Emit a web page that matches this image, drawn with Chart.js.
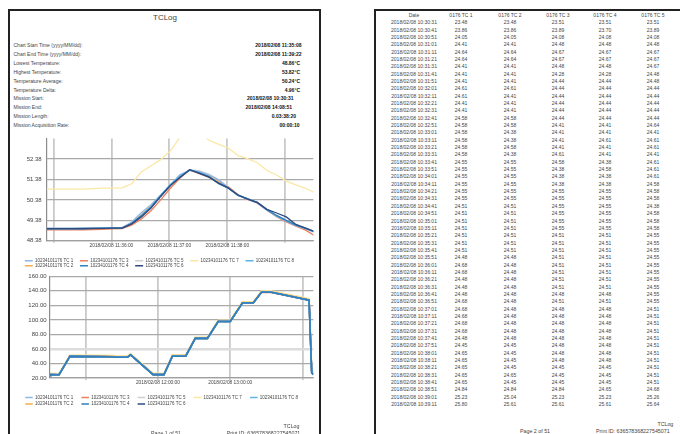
<!DOCTYPE html>
<html>
<head>
<meta charset="utf-8">
<script src="https://cdn.jsdelivr.net/npm/chart.js@4.4.1/dist/chart.umd.min.js"></script>
<style>
  html, body { margin: 0; padding: 0; background: #fff; }
  body { position: relative; width: 680px; height: 434px; overflow: hidden; font-family: "Liberation Sans", Arial, sans-serif; color: #444; }
  .page { position: absolute; border: 2px solid #222; box-sizing: border-box; height: 520px; }
  #page1 { left: 8px; top: 9px; width: 313px; }
  #page2 { left: 374px; top: 9px; width: 340px; }
  .t { position: absolute; white-space: nowrap; font-size: 5px; line-height: 6px; color: #444; font-weight: normal; }
  .b { font-weight: bold; color: #111; }
  canvas { position: absolute; }
</style>
</head>
<body>
<div class="page" id="page1"></div>
<div class="page" id="page2"></div>
<canvas id="zoomChart" width="306" height="150" style="left:12px;top:130px"></canvas>
<canvas id="missionChart" width="306" height="152" style="left:12px;top:268px"></canvas>
<script>
//DATA - summary block
const statLabels = ["Chart Start Time (yyyy/MM/dd):", "Chart End Time (yyyy/MM/dd):", "Lowest Temperature:", "Highest Temperature:", "Temperature Average:", "Temperature Delta:", "Mission Start:", "Mission End:", "Mission Length:", "Mission Acquisition Rate:"];
const statValues = ["2018/02/08 11:35:08", "2018/02/08 11:39:22", "48.86°C", "53.82°C", "50.24°C", "4.96°C", "2018/02/08 10:30:31", "2018/02/08 14:08:51", "0.03:38:20", "00:00:10"];

//DATA - series names
const tcNames = ["10234101176 TC 1", "10234101176 TC 2", "10234101176 TC 3", "10234101176 TC 4", "10234101176 TC 5", "10234101176 TC 6", "10234101176 TC 7", "10234101176 TC 8"];

//DATA - chart 1 (zoom around the peak, one reading every 10 s)
const zoomTimes = ["11:34:51", "11:35:01", "11:35:11", "11:35:21", "11:35:31", "11:35:41", "11:35:51", "11:36:01", "11:36:11", "11:36:21", "11:36:31", "11:36:41", "11:36:51", "11:37:01", "11:37:11", "11:37:21", "11:37:31", "11:37:41", "11:37:51", "11:38:01", "11:38:11", "11:38:21", "11:38:31", "11:38:41", "11:38:51", "11:39:01", "11:39:11", "11:39:21", "11:39:31"];
const zoomTC1 = [49.00, 49.00, 49.00, 49.00, 49.01, 49.01, 49.02, 49.02, 49.02, 49.30, 49.75, 50.15, 50.62, 51.12, 51.62, 51.82, 51.76, 51.60, 51.36, 50.98, 50.60, 50.42, 50.24, 49.88, 49.58, 49.34, 49.12, 48.98, 48.78];
const zoomTC2 = [48.98, 48.98, 48.98, 48.98, 48.99, 49.00, 49.00, 49.01, 49.01, 49.26, 49.66, 50.08, 50.58, 51.08, 51.55, 51.84, 51.72, 51.55, 51.28, 50.96, 50.61, 50.42, 50.25, 49.89, 49.60, 49.35, 49.13, 48.98, 48.79];
const zoomTC3 = [48.92, 48.92, 48.92, 48.92, 48.92, 48.93, 48.94, 48.96, 48.98, 49.15, 49.45, 49.85, 50.38, 50.95, 51.45, 51.84, 51.66, 51.48, 51.20, 51.02, 50.64, 50.40, 50.22, 49.88, 49.56, 49.30, 49.10, 48.90, 48.62];
const zoomTC4 = [48.96, 48.96, 48.96, 48.97, 48.97, 48.98, 48.99, 49.00, 49.00, 49.22, 49.60, 50.02, 50.58, 51.10, 51.50, 51.85, 51.70, 51.52, 51.18, 50.95, 50.60, 50.43, 50.25, 49.90, 49.62, 49.38, 49.15, 49.00, 48.82];
const zoomTC5 = [48.99, 48.99, 48.99, 48.99, 49.00, 49.00, 49.01, 49.01, 49.02, 49.23, 49.58, 50.00, 50.56, 51.08, 51.50, 51.86, 51.80, 51.64, 51.38, 51.00, 50.62, 50.44, 50.26, 49.92, 49.62, 49.38, 49.16, 49.00, 48.82];
const zoomTC6 = [48.98, 48.98, 48.98, 48.98, 48.98, 48.99, 48.99, 49.00, 49.00, 49.21, 49.55, 49.98, 50.55, 51.08, 51.48, 51.86, 51.68, 51.50, 51.20, 50.97, 50.62, 50.42, 50.26, 49.92, 49.74, 49.55, 49.18, 49.00, 48.82];
const zoomTC7 = [50.91, 50.91, 50.91, 50.91, 50.91, 50.93, 50.96, 50.96, 50.97, 51.17, 51.75, 52.05, 52.35, 52.78, 53.45, 53.82, 53.70, 53.30, 53.10, 52.92, 52.55, 52.40, 52.20, 51.82, 51.60, 51.30, 51.12, 50.95, 50.72];
const zoomTC8 = [48.98, 48.98, 48.98, 48.98, 48.99, 48.99, 49.00, 49.00, 49.01, 49.24, 49.62, 50.05, 50.60, 51.12, 51.52, 51.86, 51.72, 51.54, 51.20, 50.96, 50.62, 50.44, 50.26, 49.90, 49.60, 49.36, 49.14, 48.98, 48.80];
const zoomXTicks = ["11:35:00", "11:36:00", "11:37:00", "11:38:00", "11:39:00"];
const zoomXLabels = ["", "2018/02/08 11:36:00", "2018/02/08 11:37:00", "2018/02/08 11:38:00", ""];
const zoomYTicks = [48.38, 49.38, 50.38, 51.38, 52.38, 53.38];
const zoomYLabels = ["48.38", "49.38", "50.38", "51.38", "52.38", ""];

//DATA - chart 2 (whole mission)
const missionTimes = ["10:30:31", "10:31:11", "10:38:01", "10:47:01", "11:20:01", "11:25:01", "11:35:01", "11:37:21", "11:56:01", "12:05:01", "12:12:01", "12:23:01", "12:31:01", "12:41:01", "12:50:01", "13:00:01", "13:10:01", "13:19:01", "13:26:01", "13:34:01", "14:05:21", "14:07:31", "14:08:51"];
const missionTC1 = [23.48, 24.64, 24.65, 49.90, 49.40, 48.70, 49.00, 51.82, 24.70, 24.70, 50.10, 50.10, 74.60, 74.60, 97.90, 97.90, 123.30, 123.30, 138.40, 138.10, 127.30, 29.00, 26.00];
const missionTC2 = [23.48, 24.64, 24.45, 50.60, 50.10, 49.40, 48.98, 51.84, 25.40, 25.40, 50.80, 50.80, 75.30, 75.30, 98.60, 98.60, 124.00, 124.00, 139.10, 138.80, 128.00, 31.00, 28.50];
const missionTC3 = [23.51, 24.67, 24.48, 49.70, 49.20, 48.50, 48.92, 51.84, 24.50, 24.50, 49.90, 49.90, 74.40, 74.40, 97.70, 97.70, 123.10, 123.10, 138.20, 137.90, 127.10, 27.50, 24.80];
const missionTC4 = [23.51, 24.67, 24.48, 49.80, 49.30, 48.60, 48.97, 51.85, 24.60, 24.60, 50.00, 50.00, 74.50, 74.50, 97.80, 97.80, 123.20, 123.20, 138.30, 138.00, 127.20, 28.00, 25.00];
const missionTC5 = [23.51, 24.67, 24.51, 49.80, 49.30, 48.60, 48.99, 51.86, 24.60, 24.60, 50.00, 50.00, 74.50, 74.50, 97.80, 97.80, 123.20, 123.20, 138.30, 138.00, 127.20, 28.50, 25.50];
const missionTC6 = [23.50, 24.66, 24.48, 49.80, 49.30, 48.60, 48.98, 51.86, 24.60, 24.60, 50.00, 50.00, 74.50, 74.50, 97.80, 97.80, 123.20, 123.20, 138.30, 138.00, 127.20, 27.00, 24.60];
const missionTC7 = [25.40, 26.30, 26.20, 51.50, 51.10, 50.40, 50.91, 53.82, 26.30, 26.30, 51.80, 51.80, 76.30, 76.30, 99.60, 99.60, 125.00, 125.00, 140.20, 140.00, 129.30, 34.00, 30.50];
const missionTC8 = [23.52, 24.68, 24.50, 49.80, 49.30, 48.60, 48.98, 51.85, 24.60, 24.60, 50.00, 50.00, 74.50, 74.50, 97.80, 97.80, 123.20, 123.20, 138.30, 138.00, 127.20, 28.00, 25.20];
const missionXTicks = ["11:00:00", "12:00:00", "13:00:00", "14:00:00"];
const missionXLabels = ["", "2018/02/08 12:00:00", "2018/02/08 13:00:00", ""];
const missionYTicks = [20, 40, 60, 80, 100, 120, 140, 160];
const missionYLabels = ["20.00", "40.00", "60.00", "80.00", "100.00", "120.00", "140.00", "160.00"];

//DATA - page 2 table
const tableHeaders = ["Date", "0176 TC 1", "0176 TC 2", "0176 TC 3", "0176 TC 4", "0176 TC 5"];
const tableTimes = ["10:30:31", "10:30:41", "10:30:51", "10:31:01", "10:31:11", "10:31:21", "10:31:31", "10:31:41", "10:31:51", "10:32:01", "10:32:11", "10:32:21", "10:32:31", "10:32:41", "10:32:51", "10:33:01", "10:33:11", "10:33:21", "10:33:31", "10:33:41", "10:33:51", "10:34:01", "10:34:11", "10:34:21", "10:34:31", "10:34:41", "10:34:51", "10:35:01", "10:35:11", "10:35:21", "10:35:31", "10:35:41", "10:35:51", "10:36:01", "10:36:11", "10:36:21", "10:36:31", "10:36:41", "10:36:51", "10:37:01", "10:37:11", "10:37:21", "10:37:31", "10:37:41", "10:37:51", "10:38:01", "10:38:11", "10:38:21", "10:38:31", "10:38:41", "10:38:51", "10:39:01", "10:39:11"];
const tableTC1 = ["23.48", "23.86", "24.05", "24.41", "24.64", "24.64", "24.41", "24.41", "24.41", "24.61", "24.61", "24.41", "24.41", "24.58", "24.58", "24.58", "24.58", "24.58", "24.58", "24.55", "24.55", "24.55", "24.55", "24.55", "24.55", "24.51", "24.51", "24.51", "24.51", "24.51", "24.51", "24.51", "24.48", "24.68", "24.68", "24.48", "24.48", "24.48", "24.68", "24.68", "24.68", "24.68", "24.68", "24.48", "24.45", "24.65", "24.65", "24.65", "24.65", "24.65", "24.84", "25.23", "25.80"];
const tableTC2 = ["23.48", "23.86", "24.05", "24.41", "24.64", "24.64", "24.41", "24.41", "24.41", "24.61", "24.41", "24.41", "24.41", "24.58", "24.58", "24.38", "24.38", "24.58", "24.38", "24.55", "24.55", "24.55", "24.55", "24.55", "24.55", "24.51", "24.51", "24.51", "24.51", "24.51", "24.51", "24.51", "24.48", "24.48", "24.48", "24.48", "24.48", "24.48", "24.48", "24.48", "24.48", "24.48", "24.48", "24.48", "24.45", "24.45", "24.45", "24.45", "24.65", "24.45", "24.84", "25.04", "25.61"];
const tableTC3 = ["23.51", "23.89", "24.08", "24.48", "24.67", "24.67", "24.48", "24.28", "24.44", "24.44", "24.44", "24.44", "24.44", "24.44", "24.41", "24.41", "24.41", "24.41", "24.61", "24.58", "24.38", "24.38", "24.38", "24.55", "24.55", "24.55", "24.55", "24.55", "24.55", "24.51", "24.51", "24.51", "24.51", "24.51", "24.51", "24.51", "24.51", "24.48", "24.51", "24.48", "24.48", "24.48", "24.48", "24.48", "24.48", "24.48", "24.48", "24.45", "24.45", "24.45", "24.84", "25.23", "25.61"];
const tableTC4 = ["23.51", "23.70", "24.08", "24.48", "24.67", "24.67", "24.48", "24.28", "24.44", "24.44", "24.44", "24.44", "24.44", "24.44", "24.41", "24.41", "24.61", "24.41", "24.41", "24.38", "24.58", "24.38", "24.38", "24.55", "24.55", "24.55", "24.55", "24.55", "24.55", "24.51", "24.51", "24.51", "24.51", "24.51", "24.51", "24.51", "24.51", "24.48", "24.51", "24.48", "24.48", "24.48", "24.48", "24.48", "24.48", "24.48", "24.48", "24.45", "24.45", "24.45", "24.65", "25.23", "25.61"];
const tableTC5 = ["23.51", "23.89", "24.08", "24.48", "24.67", "24.67", "24.67", "24.48", "24.48", "24.44", "24.44", "24.44", "24.44", "24.44", "24.64", "24.41", "24.61", "24.61", "24.41", "24.61", "24.61", "24.61", "24.58", "24.58", "24.58", "24.38", "24.58", "24.58", "24.58", "24.55", "24.55", "24.55", "24.55", "24.55", "24.55", "24.55", "24.55", "24.55", "24.55", "24.51", "24.51", "24.51", "24.51", "24.51", "24.51", "24.51", "24.51", "24.51", "24.51", "24.51", "24.68", "25.26", "25.64"];

//STYLE
const tcColors = ["#8db6ea", "#f6ae48", "#ec7f5e", "#3180bd", "#cfcfcf", "#2e4b7e", "#fbe7a4", "#5cb5e6"];
const zoomOrder = [3, 6, 4, 1, 5, 0, 7, 2]; // lower = drawn on top
const missionOrder = [3, 6, 4, 0, 5, 2, 7, 1];
const legendSeq = [0, 2, 4, 6, 7, 1, 3, 5]; // legend is filled column by column
const FONT = "'Liberation Sans', Arial, sans-serif";

//HELPERS
function toSec(hms) {
  const [h, m, s] = hms.split(":").map(Number);
  return h * 3600 + m * 60 + s;
}

function put(text, x, y, align, cls) {
  const d = document.createElement("div");
  d.className = "t" + (cls ? " " + cls : "");
  d.textContent = text;
  d.style.top = (y - 3) + "px";
  if (align === "right") {
    d.style.right = (680 - x) + "px";
  } else if (align === "center") {
    d.style.left = x + "px";
    d.style.transform = "translateX(-50%)";
  } else {
    d.style.left = x + "px";
  }
  document.body.appendChild(d);
  return d;
}

//PAGE 1 TEXT
const title = put("TCLog", 165, 17.5, "center");
title.style.fontSize = "8px";
title.style.lineHeight = "9px";
title.style.top = "13px";
const statRight = [301.5, 301.5, 300, 300, 300, 300, 293.5, 292, 296, 299.5];
statLabels.forEach((label, i) => {
  const y = 45 + i * 8.9;
  put(label, 13.5, y);
  put(statValues[i], statRight[i], y, "right", "b");
});
put("TCLog", 299.5, 426, "right").style.fontSize = "5.3px";
put("Page 1 of 51", 166, 432.7, "center").style.fontSize = "5.3px";
put("Print ID:  636578368227545071", 226.7, 432.7).style.fontSize = "5.3px";

//PAGE 2 TABLE
const colX = [414, 461, 510, 558, 605, 653];
tableHeaders.forEach((h, c) => put(h, colX[c], 15.3, "center"));
const tableCols = [tableTC1, tableTC2, tableTC3, tableTC4, tableTC5];
tableTimes.forEach((t, r) => {
  const y = 22.2 + r * 7.345;
  put("2018/02/08 " + t, colX[0], y, "center");
  tableCols.forEach((col, c) => put(col[r], colX[c + 1], y, "center"));
});
put("TCLog", 673.3, 424, "right").style.fontSize = "5.3px";
put("Page 2 of 51", 535, 430.7, "center").style.fontSize = "5.3px";
put("Print ID:  636578368227545071", 596, 430.7).style.fontSize = "5.3px";

//CHARTS
function buildDatasets(times, series, widths, order) {
  return series.map((vals, i) => ({
    label: tcNames[i],
    data: times.map((t, k) => ({ x: toSec(t), y: vals[k] })),
    borderColor: tcColors[i],
    backgroundColor: tcColors[i],
    borderWidth: widths,
    pointRadius: 0,
    tension: 0,
    fill: false,
    order: order[i],
  }));
}

// legend entries get some trailing room so the columns spread like the original
function legendItems(chart) {
  return Chart.defaults.plugins.legend.labels.generateLabels(chart).map((item) => {
    item.text = item.text + "     ";
    return item;
  });
}

function makeChart(el, cfg) {
  const xTickVals = cfg.xTicks.map(toSec);
  return new Chart(el, {
    type: "line",
    data: { datasets: cfg.datasets },
    options: {
      responsive: false,
      animation: false,
      events: [],
      layout: { padding: cfg.padding },
      plugins: {
        tooltip: { enabled: false },
        legend: {
          position: "bottom",
          align: "start",
          labels: {
            usePointStyle: true,
            pointStyle: "line",
            pointStyleWidth: cfg.legendLine,
            padding: cfg.legendPad,
            color: "#444",
            font: { family: FONT, size: 4.5 },
            generateLabels: legendItems,
            sort: (a, b) => legendSeq.indexOf(a.datasetIndex) - legendSeq.indexOf(b.datasetIndex),
          },
        },
      },
      scales: {
        x: {
          type: "linear",
          min: toSec(cfg.xMin),
          max: toSec(cfg.xMax),
          afterBuildTicks: (s) => { s.ticks = xTickVals.map((v) => ({ value: v })); },
          afterFit: (s) => { s.height = cfg.xHeight; },
          grid: { color: "#c9c9c9", lineWidth: 1.8, tickLength: 2 },
          border: { color: "#a0a0a0", width: 1.2 },
          ticks: {
            autoSkip: false,
            maxRotation: 0,
            padding: 0,
            color: "#444",
            font: { family: FONT, size: 4.8 },
            callback: (v, i) => cfg.xLabels[i],
          },
        },
        y: {
          type: "linear",
          min: cfg.yTicks[0],
          max: cfg.yTicks[cfg.yTicks.length - 1],
          afterBuildTicks: (s) => { s.ticks = cfg.yTicks.map((v) => ({ value: v })); },
          afterFit: (s) => { s.width = cfg.yWidth; },
          grid: {
            drawTicks: false,
            color: (c) => cfg.gridColor(c.tick.value),
            lineWidth: (c) => cfg.gridWidth(c.tick.value),
          },
          border: { color: "#8c8c8c", width: 1.2 },
          ticks: {
            padding: cfg.yPad,
            color: "#444",
            font: { family: FONT, size: 6 },
            callback: (v, i) => cfg.yLabels[i],
          },
        },
      },
    },
  });
}

makeChart(document.getElementById("zoomChart"), {
  datasets: buildDatasets(zoomTimes, [zoomTC1, zoomTC2, zoomTC3, zoomTC4, zoomTC5, zoomTC6, zoomTC7, zoomTC8], 1.3, zoomOrder),
  padding: { left: 12.25, top: 5, right: 4.7, bottom: 2 },
  legendLine: 8,
  legendPad: 0.5,
  xMin: "11:34:53",
  xMax: "11:39:29",
  xTicks: zoomXTicks,
  xLabels: zoomXLabels,
  xHeight: 17.2,
  yTicks: zoomYTicks,
  yLabels: zoomYLabels,
  yWidth: 22.45,
  yPad: 5,
  gridColor: (v) => (v === 53.38 ? "rgba(0,0,0,0)" : "#a9a9a9"),
  gridWidth: () => 1.2,
});

makeChart(document.getElementById("missionChart"), {
  datasets: buildDatasets(missionTimes, [missionTC1, missionTC2, missionTC3, missionTC4, missionTC5, missionTC6, missionTC7, missionTC8], 1.6, missionOrder),
  padding: { left: 11.25, top: 8.3, right: 4.7, bottom: 3.8 },
  legendLine: 7.5,
  legendPad: 2,
  xMin: "10:30:31",
  xMax: "14:08:51",
  xTicks: missionXTicks,
  xLabels: missionXLabels,
  xHeight: 15.2,
  yTicks: missionYTicks,
  yLabels: missionYLabels,
  yWidth: 26.75,
  yPad: 3.3,
  gridColor: (v) => (v === 60 ? "#dcdcdc" : "#a9a9a9"),
  gridWidth: (v) => (v === 60 ? 2.6 : 1.2),
});
</script>
</body>
</html>
